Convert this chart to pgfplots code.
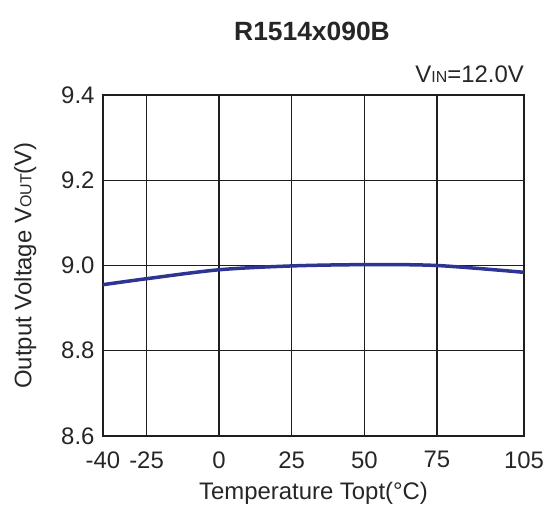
\documentclass[border=0pt]{standalone}
\usepackage{pgfplots}
\pgfplotsset{compat=1.18}
\usepackage{fontspec}
\setmainfont{Liberation Sans}
\definecolor{curve}{RGB}{45,52,145}
\definecolor{gridc}{RGB}{30,30,30}
\newcommand{\sub}[1]{{\fontsize{16}{16}\selectfont #1}}
\begin{document}
\begin{tikzpicture}
\path[use as bounding box] (-103bp,-70bp) rectangle (443bp,436bp);
\begin{axis}[
  at={(0,0)}, anchor=south west,
  scale only axis, width=421bp, height=341bp,
  xmin=-40, xmax=105, ymin=8.6, ymax=9.4,
  xtick={-40,-25,0,25,50,75,105},
  ytick={8.6,8.8,9.0,9.2,9.4},
  yticklabel style={/pgf/number format/fixed,/pgf/number format/fixed zerofill,/pgf/number format/precision=1},
  /pgf/number format/assume math mode=true,
  grid=major,
  major grid style={gridc, line width=1.3bp},
  axis line style={gridc, line width=1.3bp},
  major tick length=0pt,
  ticklabel style={font=\fontsize{24}{24}\selectfont, text=black!85},
  xticklabel style={yshift=-12bp},
  yticklabel style={xshift=-5bp},
  label style={font=\fontsize{24}{24}\selectfont, text=black!85},
  xlabel={Temperature Topt(°C)},
  ylabel={Output Voltage V\sub{OUT}(V)},
  xlabel style={at={(axis description cs:0.5,-0.167)}, anchor=center},
  ylabel style={at={(axis description cs:-0.185,0.5)}, anchor=center},
  clip=false,
]
\addplot[curve, line width=3.5bp, smooth] coordinates {
(-40,8.955) (-25,8.969) (0,8.990) (25,8.999) (50,9.002) (75,9.000) (105,8.984)
};
\end{axis}
\node[font=\bfseries\fontsize{26.5}{26.5}\selectfont, text=black!85] at (209bp,405bp) {R1514x090B};
\node[anchor=base east, font=\fontsize{24}{24}\selectfont, text=black!85, inner sep=0pt] at (421bp,353bp) {V\sub{IN}=12.0V};
\end{tikzpicture}
\end{document}
